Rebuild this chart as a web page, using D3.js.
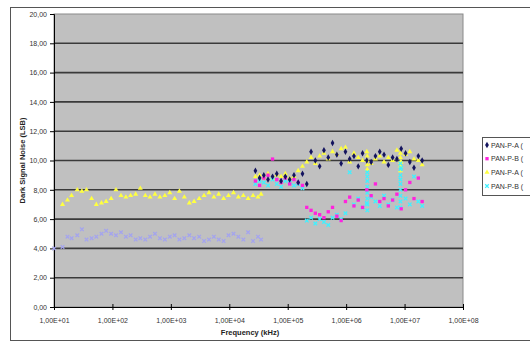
<!DOCTYPE html>
<html>
<head>
<meta charset="utf-8">
<script src="https://cdn.jsdelivr.net/npm/d3@7"></script>
<style>
  body { margin: 0; background: #fff; }
  text { font-family: "Liberation Sans", Arial, sans-serif; }
</style>
</head>
<body>
<div id="chart"></div>
<script>
// low frequency sweep (kHz)
const lowFreq = [10, 14, 17, 20, 25, 30, 36, 44, 53, 65, 78, 95, 115, 140, 170, 205, 250, 300, 365, 440,
    535, 650, 790, 960, 1160, 1400, 1700, 2070, 2500, 3050, 3700, 4500, 5450, 6600, 8000, 9700,
    11800, 14300, 17400, 21000, 25500, 31000, 35000];
const lowYellow = [null, 7.0, 7.3, 7.6, 8.0, 7.9, 8.0, 7.4, 7.0, 7.1, 7.2, 7.4, 8.0, 7.6, 7.5, 7.6, 7.7, 8.1, 7.6, 7.5,
    7.7, 7.5, 7.6, 7.8, 7.4, 7.9, 7.5, 7.1, 7.2, 7.4, 7.6, 7.8, 7.5, 7.7, 7.4, 7.6,
    7.8, 7.5, 7.6, 7.4, 7.6, 7.5, 7.7];
const lowLavender = [4.0, 4.1, 4.8, 4.7, 4.9, 5.3, 4.6, 4.7, 4.8, 5.0, 5.2, 5.0, 4.9, 5.1, 4.8, 4.9, 4.6, 4.7, 4.6, 4.8,
    5.0, 4.7, 4.6, 4.8, 4.9, 4.6, 4.7, 4.9, 4.7, 4.8, 4.5, 4.6, 4.8, 4.6, 4.5, 4.9,
    5.0, 4.8, 4.6, 5.1, 4.5, 4.8, 4.6];

// high frequency sweep (kHz)
const highFreq = [28000, 33000, 39000, 46000, 55000, 65000, 77000, 91000, 108000, 128000,
    151000, 179000, 212000, 251000, 297000, 352000, 417000, 494000, 585000, 693000,
    821000, 973000, 1150000, 1360000, 1610000, 1910000, 2260000, 2680000, 3170000, 3760000,
    4450000, 5270000, 6240000, 7390000, 8750000, 10400000, 12300000, 14500000, 17200000, 20000000];
const navyA = [9.3, 8.8, 9.0, 8.7, 8.9, 9.1, 8.6, 8.9, 8.7, 9.0,
    8.5, 9.1, 8.4, 10.6, 10.0, 9.6, 10.7, 10.2, 11.2, 10.4,
    9.8, 10.6, 10.1, 10.3, 9.6, 10.5, 10.0, 9.9, 10.3, 10.6,
    10.4, 9.7, 10.2, 10.1, 10.8, 10.5, 9.9, 9.5, 10.3, 10.0];
const magentaB = [8.6, 8.3, 8.8, 9.0, 10.1, 8.7, 8.5, 8.8, 8.4, 8.7,
    8.5, 8.3, 6.8, 6.6, 6.4, 6.3, 6.1, 6.5, 6.8, 6.2,
    5.9, 7.2, 7.5, 6.9, 7.3, 6.8, 8.0, 7.6, 8.4, 7.2,
    7.4, 6.9, 7.3, 7.7, 6.7, 8.0, 8.5, 7.4, 8.8, 7.2];
const yellowA = [8.9, 9.0, 8.8, 9.1, 8.8, 9.0, 8.9, 9.1, 8.8, 8.9,
    9.3, 9.6, 9.9, 10.2, 9.8, 10.3, 10.5, 10.1, 10.6, 10.4,
    10.8, 10.9, 9.9, 10.5, 10.2, 10.0, 10.6, 9.8, 10.1, 10.3,
    9.9, 10.2, 10.0, 10.7, 9.9, 10.4, 10.6, 10.1, 10.0, 9.7];
const cyanB = [8.4, 8.6, 8.5, 8.3, 8.7, 8.4, 8.2, 8.6, 8.5, 8.3,
    8.4, 8.1, 5.9, 6.1, 5.7, 6.0, 5.8, 5.6, 6.1, 6.3,
    6.0, 6.4, 9.2, 7.0, 7.4, 6.8, 7.1, 7.5, 7.2, 6.9,
    7.6, 7.0, 7.3, 6.8, 9.5, 7.4, 7.0, 8.9, 7.2, 6.9];
// dense sweeps around two frequencies
const streakFreq = [2300000, 2300000, 2300000, 2300000, 2300000, 2300000, 2300000, 2300000,
    8500000, 8500000, 8500000, 8500000, 8500000, 8500000, 8500000, 8500000, 8500000];
const streakCyan = [6.6, 7.0, 7.4, 7.8, 8.2, 8.6, 8.9, 9.2,
    6.8, 7.2, 7.6, 8.0, 8.4, 8.7, 9.0, 9.4, 9.8];
const streakYellow = [9.4, 9.7, 10.0, 10.3, null, null, null, null,
    9.3, 9.6, 9.9, 10.2, 10.5, null, null, null, null];

const yTicks = [0, 2, 4, 6, 8, 10, 12, 14, 16, 18, 20];
const xTicks = [1e1, 1e2, 1e3, 1e4, 1e5, 1e6, 1e7, 1e8];
// legend names are cut at the chart edge in the source
const legendNames = ['PAN-P-A (', 'PAN-P-B (', 'PAN-P-A (', 'PAN-P-B ('];

const width = 530, height = 342;
const plot = { left: 54, top: 14, right: 463, bottom: 307 };

const svg = d3.select('#chart').append('svg')
    .attr('width', width)
    .attr('height', height);

// chart area border
svg.append('rect')
    .attr('x', 10.5).attr('y', 7.5)
    .attr('width', 530).attr('height', 333)
    .style('fill', '#fff')
    .style('stroke', '#555');

const x = d3.scaleLog().domain([1e1, 1e8]).range([plot.left, plot.right]);
const y = d3.scaleLinear().domain([0, 20]).range([plot.bottom, plot.top]);

svg.append('rect')
    .attr('x', plot.left).attr('y', plot.top)
    .attr('width', plot.right - plot.left).attr('height', plot.bottom - plot.top)
    .style('fill', '#c0c0c0')
    .style('stroke', '#8a8a8a');

// gridlines
svg.append('g').selectAll('line')
    .data(yTicks.filter(d => d > 0 && d < 20))
    .enter().append('line')
    .attr('x1', plot.left).attr('x2', plot.right)
    .attr('y1', d => y(d)).attr('y2', d => y(d))
    .style('stroke', '#3a3a3a')
    .style('stroke-width', 1.6);

const yAxis = svg.append('g')
    .attr('transform', `translate(${plot.left},0)`)
    .call(d3.axisLeft(y).tickValues(yTicks).tickSize(4).tickPadding(3)
        .tickFormat(d => d3.format('.2f')(d).replace('.', ',')));
const xAxis = svg.append('g')
    .attr('transform', `translate(0,${plot.bottom})`)
    .call(d3.axisBottom(x).tickValues(xTicks).tickSize(3).tickPadding(8)
        .tickFormat(d => '1,00E+' + String(Math.round(Math.log10(d))).padStart(2, '0')));
// excel style cross ticks
xAxis.selectAll('.tick line').attr('y1', -3);
[yAxis, xAxis].forEach(a => {
    a.select('.domain').style('stroke', '#000');
    a.selectAll('.tick line').style('stroke', '#000');
    a.selectAll('.tick text')
        .style('font-size', '7px')
        .style('fill', '#333');
});

svg.append('text')
    .attr('x', 250).attr('y', 335)
    .attr('text-anchor', 'middle')
    .style('font-size', '7.5px')
    .style('font-weight', 'bold')
    .style('fill', '#222')
    .text('Frequency (kHz)');
svg.append('text')
    .attr('transform', `translate(25,${(plot.top + plot.bottom) / 2}) rotate(-90)`)
    .attr('text-anchor', 'middle')
    .style('font-size', '7.5px')
    .style('font-weight', 'bold')
    .style('fill', '#222')
    .text('Dark Signal Noise (LSB)');

function pairs(fs, vs) {
    return fs.map((f, i) => [f, vs[i]]).filter(d => d[1] != null);
}

const sym = {
    diamond: d3.symbol().type(d3.symbolDiamond).size(12),
    square: d3.symbol().type(d3.symbolSquare).size(11),
    triangle: d3.symbol().type(d3.symbolTriangle).size(11),
    cross: d3.symbol().type(d3.symbolX).size(10)
};

const series = [
    { data: pairs(lowFreq, lowLavender), color: '#a4a4ee', shape: 'cross', stroke: true },
    { data: pairs(lowFreq, lowYellow).concat(pairs(highFreq, yellowA), pairs(streakFreq, streakYellow)), color: '#ffff40', shape: 'triangle' },
    { data: pairs(highFreq, cyanB).concat(pairs(streakFreq, streakCyan)), color: '#40f0ff', shape: 'cross', stroke: true },
    { data: pairs(highFreq, magentaB), color: '#ff22dd', shape: 'square' },
    { data: pairs(highFreq, navyA), color: '#14145e', shape: 'diamond' }
];

const plotG = svg.append('g');
series.forEach(s => {
    plotG.append('g').selectAll('path')
        .data(s.data)
        .enter().append('path')
        .attr('transform', d => `translate(${x(d[0])},${y(d[1])})`)
        .attr('d', sym[s.shape])
        .style('fill', s.stroke ? 'none' : s.color)
        .style('stroke', s.stroke ? s.color : 'none')
        .style('stroke-width', 1.3);
});

// legend
const legendItems = [
    { color: '#14145e', shape: 'diamond' },
    { color: '#ff22dd', shape: 'square' },
    { color: '#ffff40', shape: 'triangle' },
    { color: '#40f0ff', shape: 'cross' }
];
const legend = svg.append('g').attr('transform', 'translate(482,137)');
legend.append('rect')
    .attr('x', 0.5).attr('y', 0.5)
    .attr('width', 80).attr('height', 58)
    .style('fill', '#fff')
    .style('stroke', '#555');
const item = legend.selectAll('.legend-item')
    .data(legendItems)
    .enter().append('g')
    .classed('legend-item', true)
    .attr('transform', (d, i) => `translate(5,${8 + i * 13.7})`);
item.append('path')
    .attr('d', d => sym[d.shape]())
    .style('fill', d => d.shape === 'cross' ? 'none' : d.color)
    .style('stroke', d => d.shape === 'cross' ? d.color : 'none')
    .style('stroke-width', 1.3);
item.append('text')
    .attr('x', 4).attr('y', 2.5)
    .style('font-size', '7px')
    .style('fill', '#333')
    .text((d, i) => legendNames[i]);
</script>
</body>
</html>
